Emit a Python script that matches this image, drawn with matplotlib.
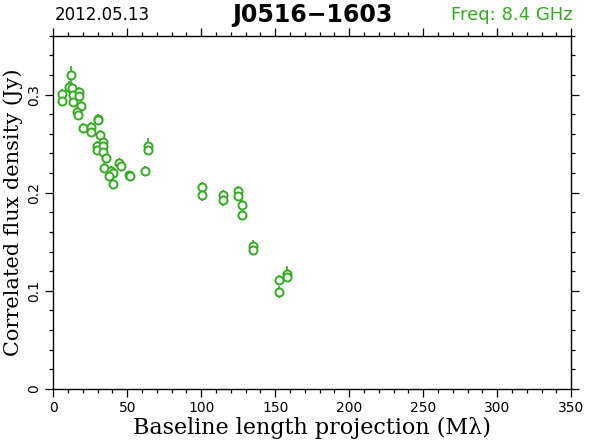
import matplotlib

matplotlib.use("Agg")
import matplotlib.pyplot as plt
from matplotlib.ticker import MultipleLocator

# baseline projection (Mlambda), correlated flux (Jy), error (Jy)
baseline = [5.7, 5.7, 12.0, 10.8, 12.6, 13.5, 13.5, 17.6, 17.6, 18.5,
            16.2, 16.7, 20.3, 25.3, 25.3, 30.4, 30.4, 31.6, 33.4, 29.7,
            29.7, 33.8, 33.6, 35.4, 34.5, 38.8, 40.5, 37.8, 44.6, 45.7,
            40.1, 51.1, 51.8, 62.0, 63.8, 63.8, 100.5, 100.5, 114.5, 114.9,
            124.6, 124.6, 127.7, 127.7, 134.7, 134.7, 157.9, 157.9, 152.5, 152.5]
flux = [0.301, 0.293, 0.320, 0.308, 0.307, 0.300, 0.292, 0.303, 0.299, 0.288,
        0.282, 0.279, 0.266, 0.267, 0.262, 0.275, 0.274, 0.259, 0.252, 0.248,
        0.244, 0.248, 0.242, 0.235, 0.225, 0.222, 0.220, 0.217, 0.230, 0.227,
        0.209, 0.218, 0.217, 0.222, 0.248, 0.244, 0.206, 0.198, 0.198, 0.193,
        0.202, 0.197, 0.188, 0.177, 0.146, 0.142, 0.117, 0.114, 0.111, 0.099]
flux_err = [0.005, 0.005, 0.009, 0.006, 0.005, 0.005, 0.005, 0.005, 0.005, 0.005,
            0.005, 0.005, 0.005, 0.005, 0.005, 0.005, 0.005, 0.005, 0.005, 0.005,
            0.005, 0.005, 0.005, 0.005, 0.005, 0.005, 0.005, 0.005, 0.005, 0.005,
            0.005, 0.004, 0.004, 0.005, 0.008, 0.005, 0.005, 0.006, 0.005, 0.007,
            0.005, 0.005, 0.005, 0.005, 0.006, 0.005, 0.008, 0.005, 0.005, 0.006]

GREEN = "#33aa22"

fig = plt.figure(figsize=(5.9, 4.43), dpi=100)
ax = fig.add_axes([0.0903, 0.1219, 0.878, 0.7975])

ax.errorbar(baseline, flux, yerr=flux_err, fmt="o", mfc="white", mec=GREEN,
            ecolor=GREEN, ms=5.8, mew=1.4, elinewidth=1.2, capsize=0)

ax.set_xlim(0, 350)
ax.set_ylim(0, 0.36)
ax.xaxis.set_major_locator(MultipleLocator(50))
ax.xaxis.set_minor_locator(MultipleLocator(10))
ax.yaxis.set_major_locator(MultipleLocator(0.1))
ax.yaxis.set_minor_locator(MultipleLocator(0.02))
ax.yaxis.set_major_formatter(plt.FuncFormatter(lambda v, p: "0" if v == 0 else f"{v:.1f}"))
ax.tick_params(which="both", direction="out", top=True, right=True,
               labeltop=False, labelright=False, width=0.9, color="black")
ax.tick_params(which="major", length=5.5, labelsize=10)
ax.tick_params(which="minor", length=3)
for lab in ax.get_yticklabels():
    lab.set_rotation(90)
    lab.set_va("center")
for sp in ax.spines.values():
    sp.set_linewidth(1.0)

ax.set_xlabel("Baseline length projection (M\u03bb)", family="DejaVu Serif", fontsize=16, labelpad=1)
ax.set_ylabel("Correlated flux density (Jy)", family="DejaVu Serif", fontsize=15, labelpad=3)

fig.text(0.093, 0.967, "2012.05.13", fontsize=12, ha="left", va="center")
fig.text(0.529, 0.967, "J0516\u22121603", fontsize=17, fontweight="bold", ha="center", va="center")
fig.text(0.97, 0.967, "Freq: 8.4 GHz", fontsize=13, color=GREEN, ha="right", va="center")

fig.savefig("out.png", dpi=100)
